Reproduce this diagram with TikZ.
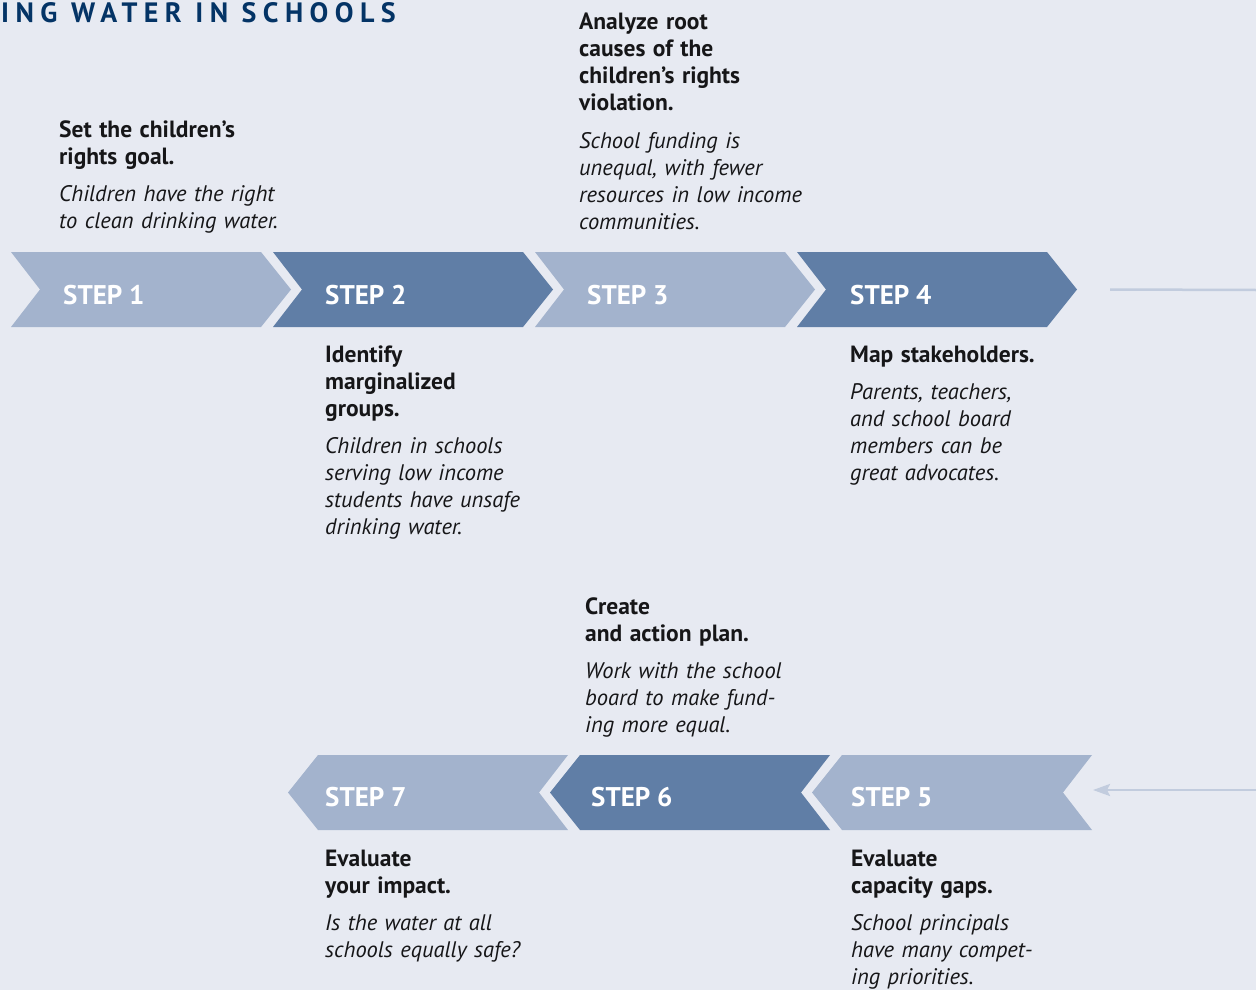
\documentclass[tikz,border=0pt]{standalone}
\usepackage{fontspec}
\setmainfont{PT Sans}
\usetikzlibrary{arrows.meta}

\definecolor{panelbg}{RGB}{231,234,242}
\definecolor{steplight}{RGB}{163,179,205}
\definecolor{stepdark}{RGB}{96,126,166}
\definecolor{linkgray}{RGB}{194,204,222}
\definecolor{titleblue}{RGB}{4,52,102}
\definecolor{notetext}{RGB}{22,22,24}

% chevrons: 250 body, 30 point, 75 high; (x,y) is the top left of the body
\def\chevright[#1](#2,#3)#4{\fill[#1] (#2,#3) -- ++(250,0) -- ++(30,37.5) coordinate (#4-tip) -- ++(-30,37.5) -- ++(-250,0) -- ++(29,-37.5) coordinate (#4-notch) -- cycle;}
\def\chevleft[#1](#2,#3)#4{\fill[#1] (#2,#3) -- ++(250,0) -- ++(-29,37.5) coordinate (#4-notch) -- ++(29,37.5) -- ++(-250,0) -- ++(-30,-37.5) coordinate (#4-tip) -- cycle;}

% heading and text of a note
\def\head{\fontsize{23.5}{27}\selectfont\bfseries}
\def\body{\fontsize{22.5}{27}\selectfont\mdseries\itshape}

\tikzset{
  steplabel/.style={anchor=base west, inner sep=0, text=white, font=\fontsize{27}{30}\selectfont\bfseries},
  note/.style={anchor=base west, inner sep=0, text width=300pt, align=left, text=notetext, font=\fontsize{22.5}{27}\selectfont},
  link/.style={draw=linkgray, line width=2.5pt}
}

\begin{document}
\begin{tikzpicture}[x=1pt, y=-1pt]
	\fill[panelbg] (0,0) rectangle (1256,990);
	\useasboundingbox (0,0) rectangle (1256,990);
	
	\node[anchor=base west, inner sep=0, text=titleblue, font=\fontsize{28}{30}\selectfont\bfseries\addfontfeatures{LetterSpace=23}] (title) at (1,22.5) {ING WATER IN SCHOOLS};
	
	% top row, pointing right
	\chevright[steplight](11,252){c1}
	\chevright[stepdark](273,252){c2}
	\chevright[steplight](535,252){c3}
	\chevright[stepdark](797,252){c4}
	
	\node[steplabel] (step1) at (63,304) {STEP 1};
	\node[steplabel] (step2) at (325,304) {STEP 2};
	\node[steplabel] (step3) at (587,304) {STEP 3};
	\node[steplabel] (step4) at (850,304) {STEP 4};
	
	% bottom row, pointing left
	\chevleft[steplight](842,755){c5}
	\chevleft[stepdark](580,755){c6}
	\chevleft[steplight](318,755){c7}
	
	\node[steplabel] (step5) at (851,806) {STEP 5};
	\node[steplabel] (step6) at (591,806) {STEP 6};
	\node[steplabel] (step7) at (325,806) {STEP 7};
	
	% notes
	\node[note] (note1) at (59,137) {\head Set the children’s\\rights goal.\\[10.5pt]\body Children have the right\\to clean drinking water.};
	\node[note] (note2) at (325,362) {\head Identify\\marginalized\\groups.\\[10.5pt]\body Children in schools\\serving low income\\students have unsafe\\drinking water.};
	\node[note] (note3) at (579,30) {\head Analyze root\\causes of the\\children’s rights\\violation.\\[10.5pt]\body School funding is\\unequal, with fewer\\resources in low income\\communities.};
	\node[note] (note4) at (850,362) {\head Map stakeholders.\\[10.5pt]\body Parents, teachers,\\and school board\\members can be\\great advocates.};
	\node[note] (note5) at (851,866) {\head Evaluate\\capacity gaps.\\[10.5pt]\body School principals\\have many compet-\\ing priorities.};
	\node[note] (note6) at (585,614) {\head Create\\and action plan.\\[10.5pt]\body Work with the school\\board to make fund-\\ing more equal.};
	\node[note] (note7) at (325,866) {\head Evaluate\\your impact.\\[10.5pt]\body Is the water at all\\schools equally safe?};
	
	% row links at the right edge
	\coordinate (exit) at (1256,290);
	\coordinate (entry) at (1256,790);
	\draw[link] ([xshift=33pt]c4-tip) -- (exit);
	\draw[link, -{Stealth[length=17pt, width=12pt, inset=3pt]}] (entry) -- ([xshift=30pt, yshift=2.5pt]c5-notch);
\end{tikzpicture}
\end{document}
